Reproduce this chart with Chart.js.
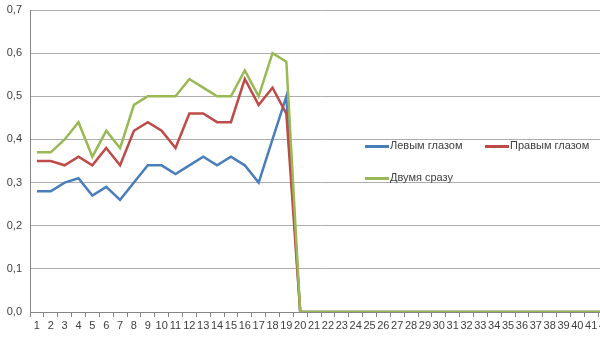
<!DOCTYPE html>
<html>
<head>
<meta charset="utf-8">
<script src="https://cdn.jsdelivr.net/npm/chart.js@4"></script>
<style>
  html, body { margin: 0; padding: 0; background: #fff; overflow: hidden; }
  #wrap { position: absolute; left: 0; top: 0; width: 612px; height: 337px; }
  .leg { position: absolute; font: 11px "Liberation Sans", Arial, sans-serif; color: #404040; white-space: nowrap; }
  .leg i { display: inline-block; width: 24px; height: 3px; vertical-align: middle; margin-right: 1px; }
</style>
</head>
<body>
<div id="wrap"><canvas id="c"></canvas></div>
<script>
// номера по оси X (видно до 42, дальше обрезано)
const categories = [];
for (let i = 1; i <= 42; i++) categories.push(String(i));

const seriesNames = ['Левым глазом', 'Правым глазом', 'Двумя сразу'];
const seriesColors = ['#4a7ebb', '#be4b48', '#98b954'];

const leftEye = [0.28, 0.28, 0.30, 0.31, 0.27, 0.29, 0.26, 0.30, 0.34, 0.34,
  0.32, 0.34, 0.36, 0.34, 0.36, 0.34, 0.30, 0.40, 0.50, 0,
  0, 0, 0, 0, 0, 0, 0, 0, 0, 0, 0, 0, 0, 0, 0, 0, 0, 0, 0, 0, 0, 0];
const rightEye = [0.35, 0.35, 0.34, 0.36, 0.34, 0.38, 0.34, 0.42, 0.44, 0.42,
  0.38, 0.46, 0.46, 0.44, 0.44, 0.54, 0.48, 0.52, 0.46, 0,
  0, 0, 0, 0, 0, 0, 0, 0, 0, 0, 0, 0, 0, 0, 0, 0, 0, 0, 0, 0, 0, 0];
const bothEyes = [0.37, 0.37, 0.40, 0.44, 0.36, 0.42, 0.38, 0.48, 0.50, 0.50,
  0.50, 0.54, 0.52, 0.50, 0.50, 0.56, 0.50, 0.60, 0.58, 0,
  0, 0, 0, 0, 0, 0, 0, 0, 0, 0, 0, 0, 0, 0, 0, 0, 0, 0, 0, 0, 0, 0];

const yTicks = [0, 0.1, 0.2, 0.3, 0.4, 0.5, 0.6, 0.7];

const font = { family: '"Liberation Sans", Arial, sans-serif', size: 11 };

function ds(i, data) {
  return {
    label: seriesNames[i],
    data: data,
    borderColor: seriesColors[i],
    backgroundColor: seriesColors[i],
    borderWidth: 2.5,
    pointRadius: 0,
    tension: 0,
    order: 3 - i // зелёная поверх
  };
}

new Chart(document.getElementById('c'), {
  type: 'line',
  data: {
    labels: categories,
    datasets: [ds(0, leftEye), ds(1, rightEye), ds(2, bothEyes)]
  },
  options: {
    responsive: true,
    maintainAspectRatio: false,
    animation: false,
    layout: { padding: { top: 10, left: 0, right: 0, bottom: 0 } },
    plugins: { legend: { display: false }, tooltip: { enabled: false } },
    scales: {
      x: {
        offset: true,
        grid: { display: true, drawOnChartArea: false, offset: true, tickLength: 5, color: '#868686' },
        border: { color: '#868686', width: 1 },
        ticks: { autoSkip: false, maxRotation: 0, color: '#404040', font: font, padding: 2 },
        afterFit: function (s) { s.height = 25; s.paddingLeft = 0; s.paddingRight = 0; }
      },
      y: {
        min: 0,
        max: 0.7,
        afterBuildTicks: function (s) { s.ticks = yTicks.map(v => ({ value: v })); },
        grid: { color: '#adadad', drawTicks: false },
        border: { color: '#868686', width: 1 },
        ticks: {
          color: '#404040', font: font, padding: 8,
          callback: v => v.toFixed(1).replace('.', ',')
        },
        afterFit: function (s) { s.width = 30; s.paddingTop = 0; s.paddingBottom = 0; }
      }
    }
  }
});

// легенда внутри области графика, как в исходнике
const legPos = [[365, 139], [485, 139], [365, 171]];
seriesNames.forEach(function (name, i) {
  const d = document.createElement('div');
  d.className = 'leg';
  d.style.left = legPos[i][0] + 'px';
  d.style.top = legPos[i][1] + 'px';
  d.innerHTML = '<i style="background:' + seriesColors[i] + '"></i>' + name;
  document.getElementById('wrap').appendChild(d);
});
</script>
</body>
</html>
